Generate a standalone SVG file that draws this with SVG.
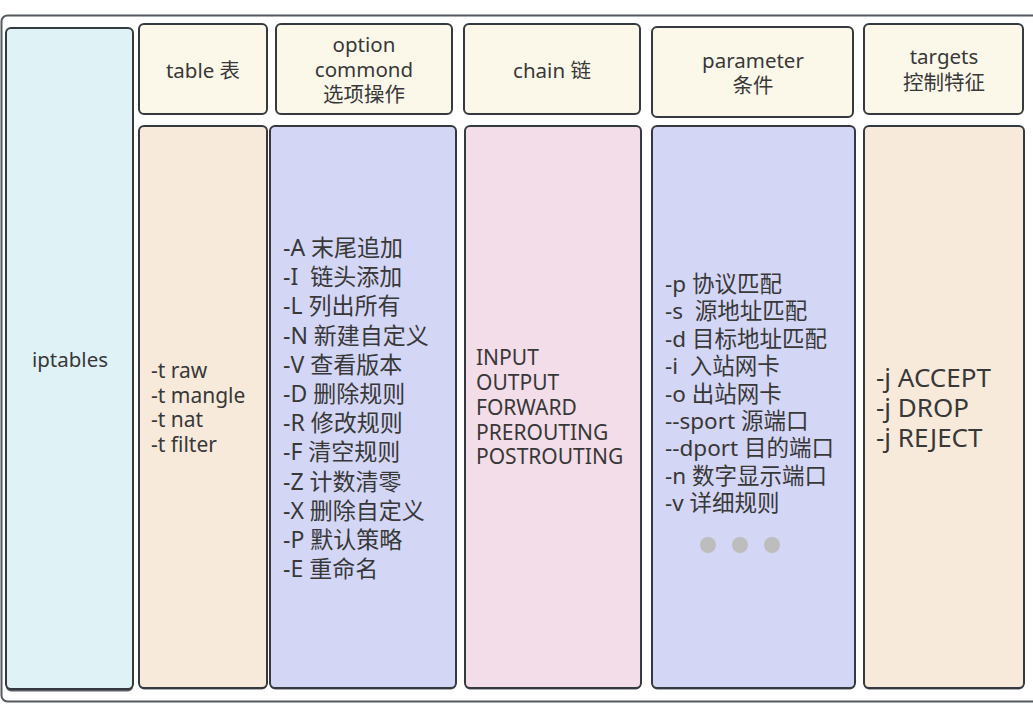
<svg xmlns="http://www.w3.org/2000/svg" width="1033" height="708" viewBox="0 0 1033 708" xml:space="preserve">
<style>
.box{stroke:#353a40;stroke-width:2}
.sh{fill:#5a5e64}
.hd{fill:#fbf8ea}
.t{font-family:"Noto Sans","Noto Sans CJK SC",sans-serif;fill:#383838;white-space:pre}
.c{text-anchor:middle}
.s20{font-size:20.5px}
.s21{font-size:21px}
.s22{font-size:22.5px}
.s23{font-size:23px}
.s26{font-size:26px}
</style>
<rect width="1033" height="708" fill="#ffffff"/>
<rect x="1.5" y="15.5" width="1050" height="686" rx="6" fill="none" stroke="#555a60" stroke-width="2"/>

<g id="iptables">
<rect class="sh" x="6" y="29.5" width="127" height="662" rx="5"/>
<rect class="box" x="6" y="28" width="127" height="661" rx="5" fill="#dff2f5"/>
<text class="t s20 c" x="70" y="367">iptables</text>
</g>

<g id="table-header">
<rect class="box hd" x="139" y="24" width="128" height="90" rx="5"/>
<text class="t s20 c" x="203" y="78">table 表</text>
</g>
<g id="option-header">
<rect class="box hd" x="276" y="24" width="176" height="90" rx="5"/>
<text class="t s20 c" x="364" y="52">option</text>
<text class="t s20 c" x="364" y="77">commond</text>
<text class="t s20 c" x="364" y="102">选项操作</text>
</g>
<g id="chain-header">
<rect class="box hd" x="464" y="24" width="176" height="90" rx="5"/>
<text class="t s20 c" x="552" y="78">chain 链</text>
</g>
<g id="parameter-header">
<rect class="box hd" x="652" y="27" width="201" height="90" rx="5"/>
<text class="t s20 c" x="753" y="68">parameter</text>
<text class="t s20 c" x="753" y="93">条件</text>
</g>
<g id="targets-header">
<rect class="box hd" x="864" y="24" width="159" height="90" rx="5"/>
<text class="t s20 c" x="944" y="64">targets</text>
<text class="t s20 c" x="944" y="90">控制特征</text>
</g>

<g id="table-body">
<rect class="sh" x="139" y="127.5" width="128" height="562" rx="5"/>
<rect class="box" x="139" y="126" width="128" height="562" rx="5" fill="#f8eadb"/>
<text class="t s21" x="151" y="378">-t raw</text>
<text class="t s21" x="151" y="402.5">-t mangle</text>
<text class="t s21" x="151" y="427">-t nat</text>
<text class="t s21" x="151" y="451.5">-t filter</text>
</g>

<g id="option-body">
<rect class="sh" x="270" y="127.5" width="186" height="562" rx="5"/>
<rect class="box" x="270" y="126" width="186" height="562" rx="5" fill="#d4d6f5"/>
<text class="t s23" x="283" y="256">-A 末尾追加</text>
<text class="t s23" x="283" y="285.2">-I  链头添加</text>
<text class="t s23" x="283" y="314.4">-L 列出所有</text>
<text class="t s23" x="283" y="343.6">-N 新建自定义</text>
<text class="t s23" x="283" y="372.8">-V 查看版本</text>
<text class="t s23" x="283" y="402">-D 删除规则</text>
<text class="t s23" x="283" y="431.2">-R 修改规则</text>
<text class="t s23" x="283" y="460.4">-F 清空规则</text>
<text class="t s23" x="283" y="489.6">-Z 计数清零</text>
<text class="t s23" x="283" y="518.8">-X 删除自定义</text>
<text class="t s23" x="283" y="548">-P 默认策略</text>
<text class="t s23" x="283" y="577.2">-E 重命名</text>
</g>

<g id="chain-body">
<rect class="sh" x="465" y="127.5" width="176" height="562" rx="5"/>
<rect class="box" x="465" y="126" width="176" height="562" rx="5" fill="#f3dde9"/>
<text class="t s21" x="476" y="365">INPUT</text>
<text class="t s21" x="476" y="390">OUTPUT</text>
<text class="t s21" x="476" y="415">FORWARD</text>
<text class="t s21" x="476" y="440">PREROUTING</text>
<text class="t s21" x="476" y="464">POSTROUTING</text>
</g>

<g id="parameter-body">
<rect class="sh" x="652" y="127.5" width="203" height="562" rx="5"/>
<rect class="box" x="652" y="126" width="203" height="562" rx="5" fill="#d4d6f5"/>
<text class="t s22" x="665" y="292">-p 协议匹配</text>
<text class="t s22" x="665" y="319.4">-s  源地址匹配</text>
<text class="t s22" x="665" y="346.8">-d 目标地址匹配</text>
<text class="t s22" x="665" y="374.2">-i  入站网卡</text>
<text class="t s22" x="665" y="401.6">-o 出站网卡</text>
<text class="t s22" x="665" y="429">--sport 源端口</text>
<text class="t s22" x="665" y="456.4">--dport 目的端口</text>
<text class="t s22" x="665" y="483.8">-n 数字显示端口</text>
<text class="t s22" x="665" y="511.2">-v 详细规则</text>
<circle cx="708" cy="545" r="8" fill="#bdbdbd"/>
<circle cx="740" cy="545" r="8" fill="#bdbdbd"/>
<circle cx="772" cy="545" r="8" fill="#bdbdbd"/>
</g>

<g id="targets-body">
<rect class="sh" x="864" y="127.5" width="160" height="562" rx="5"/>
<rect class="box" x="864" y="126" width="160" height="562" rx="5" fill="#f8eadb"/>
<text class="t s26" x="876" y="387">-j ACCEPT</text>
<text class="t s26" x="876" y="417">-j DROP</text>
<text class="t s26" x="876" y="447">-j REJECT</text>
</g>

<g id="connectors"></g>
</svg>
